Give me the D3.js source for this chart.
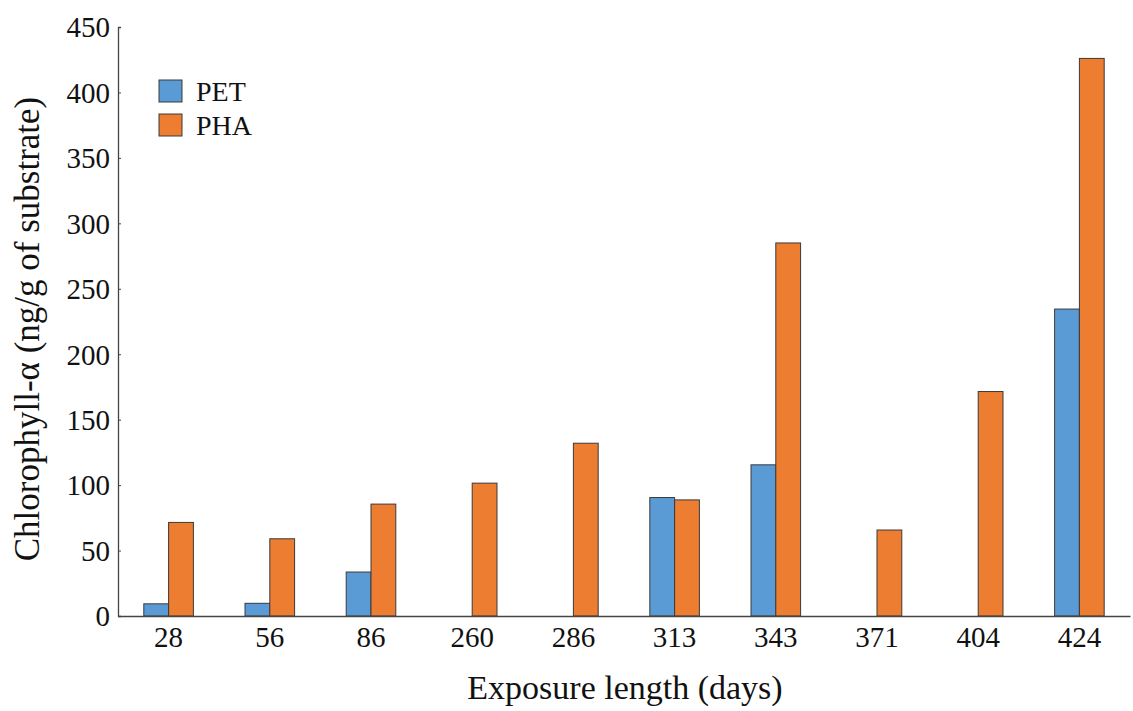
<!DOCTYPE html>
<html>
<head>
<meta charset="utf-8">
<script src="https://cdn.jsdelivr.net/npm/d3@7"></script>
<style>
  body { margin: 0; background: #fff; }
  svg text { font-family: "Liberation Serif", "Times New Roman", serif; fill: #111; }
</style>
</head>
<body>
<div class="chart"></div>
<script>
var days = ["28", "56", "86", "260", "286", "313", "343", "371", "404", "424"];
var pet = [9.3, 9.7, 33.6, null, null, 90.5, 115.5, null, null, 234.5];
var pha = [71.5, 59, 85.5, 101.5, 132, 88.7, 285, 65.7, 171.5, 426];
var seriesNames = ["PET", "PHA"];
var yTicks = [0, 50, 100, 150, 200, 250, 300, 350, 400, 450];

var w = 1133;
var h = 711;
var margin = {top: 27, right: 3, bottom: 95, left: 118};
var colors = {PET: "#5b9bd5", PHA: "#ed7d31"};

var svg = d3.select(".chart")
  .append("svg")
  .attr("width", w)
  .attr("height", h);

var plotW = w - margin.left - margin.right;
var plotH = h - margin.top - margin.bottom;

var g = svg.append("g")
  .attr("transform", "translate(" + margin.left + "," + margin.top + ")");

// scales
var xScale = d3.scaleBand()
  .domain(days)
  .range([0, plotW])
  .paddingInner(0.51)
  .paddingOuter(0.255);

var xSub = d3.scaleBand()
  .domain(seriesNames)
  .range([0, xScale.bandwidth()]);

var yScale = d3.scaleLinear()
  .domain([0, 450])
  .range([plotH, 0]);

// bars
var rows = days.map(function(d, i) {
  return {day: d, values: [{key: "PET", v: pet[i]}, {key: "PHA", v: pha[i]}]};
});

g.selectAll("g.group")
  .data(rows)
  .enter()
  .append("g")
  .attr("class", "group")
  .attr("transform", function(d) { return "translate(" + xScale(d.day) + ",0)"; })
  .selectAll("rect")
  .data(function(d) { return d.values.filter(function(e) { return e.v != null; }); })
  .enter()
  .append("rect")
  .attr("x", function(d) { return xSub(d.key); })
  .attr("y", function(d) { return yScale(d.v); })
  .attr("width", xSub.bandwidth())
  .attr("height", function(d) { return plotH - yScale(d.v); })
  .attr("fill", function(d) { return colors[d.key]; })
  .attr("stroke", "#3a3a3a")
  .attr("stroke-width", 1);

// axes
var yAxis = g.append("g")
  .call(d3.axisLeft(yScale).tickValues(yTicks).tickSize(-3).tickPadding(8));
yAxis.select(".domain").attr("stroke", "#444").attr("stroke-width", 1.3);
yAxis.selectAll(".tick line").attr("stroke", "#444");
yAxis.selectAll("text").style("font-size", "29px").attr("dy", "0.34em");

var xAxis = g.append("g")
  .attr("transform", "translate(0," + plotH + ")")
  .call(d3.axisBottom(xScale).tickSize(0).tickPadding(10));
xAxis.select(".domain").attr("stroke", "#444").attr("stroke-width", 1.3);
xAxis.selectAll("text").style("font-size", "29px").attr("dy", "0.72em");

// axis titles
svg.append("text")
  .attr("x", 625)
  .attr("y", 699)
  .attr("text-anchor", "middle")
  .style("font-size", "34px")
  .text("Exposure length (days)");

svg.append("text")
  .attr("transform", "translate(39,329) rotate(-90)")
  .attr("text-anchor", "middle")
  .style("font-size", "35px")
  .text("Chlorophyll-α (ng/g of substrate)");

// legend
var legend = svg.append("g")
  .attr("transform", "translate(159,80)");

legend.selectAll("rect")
  .data(seriesNames)
  .enter()
  .append("rect")
  .attr("x", 0)
  .attr("y", function(d, i) { return i * 34; })
  .attr("width", 23)
  .attr("height", 22)
  .attr("fill", function(d) { return colors[d]; })
  .attr("stroke", "#3a3a3a");

legend.selectAll("text")
  .data(seriesNames)
  .enter()
  .append("text")
  .attr("x", 37)
  .attr("y", function(d, i) { return i * 34 + 21; })
  .style("font-size", "28px")
  .text(function(d) { return d; });
</script>
</body>
</html>
